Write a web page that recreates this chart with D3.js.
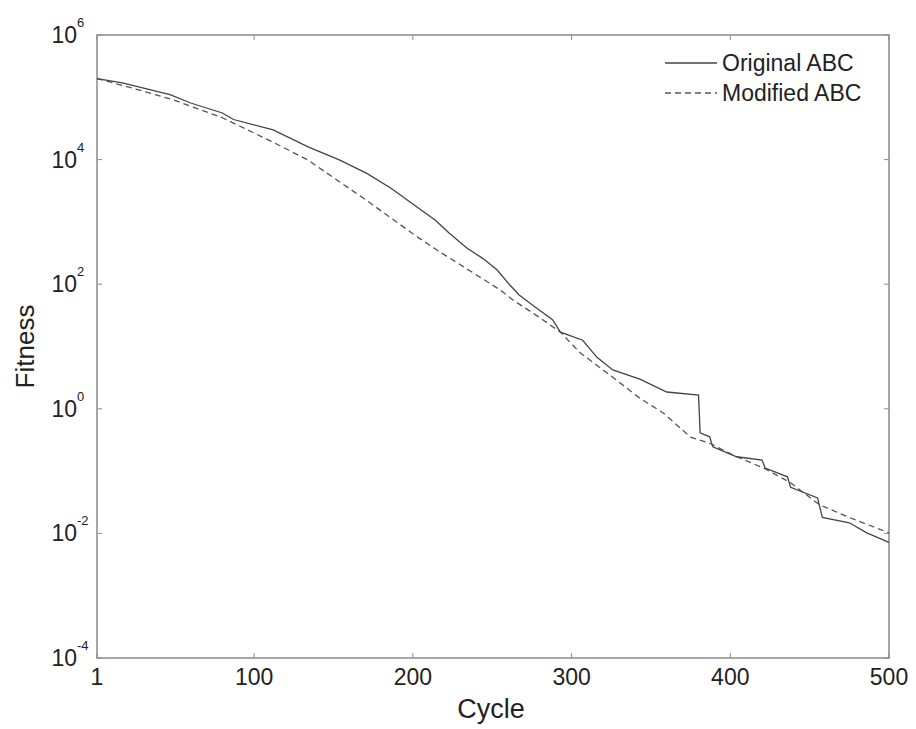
<!DOCTYPE html>
<html><head><meta charset="utf-8">
<script src="https://cdn.jsdelivr.net/npm/d3@7"></script>
<style>html,body{margin:0;padding:0;background:#fff;}svg{display:block;font-family:Arial,"Liberation Sans",Helvetica,sans-serif;}</style>
</head><body>
<svg id="chart" width="916" height="729"></svg>
<script>
const originalCycles = [1,17,47,60,80,87,112,134,154,171,186,203,214,223,234,244,253,261,267,277,288,293,307,316,326,343,360,380,381,387,389,404,420,422,436,438,455,458,475,486,500];
const originalFitness = [2.0e5,1.7e5,1.1e5,8.1e4,5.6e4,4.4e4,3.0e4,1.6e4,9.8e3,6.0e3,3.5e3,1.7e3,1.07e3,660,380,260,170,98,67,43,27,17,12.6,6.7,4.2,3.0,1.86,1.66,0.41,0.355,0.245,0.17,0.15,0.112,0.081,0.055,0.037,0.018,0.0148,0.0102,0.0072];
const modifiedCycles = [1,28,49,80,112,134,171,203,217,232,255,263,280,293,305,326,343,358,375,387,404,421,438,456,475,500];
const modifiedFitness = [2.0e5,1.3e5,9.1e4,4.7e4,1.9e4,9.8e3,2.2e3,570,330,190,81,56,29,17,8.1,3.2,1.48,0.85,0.35,0.28,0.17,0.112,0.065,0.029,0.018,0.0102];
const xTicks = [1,100,200,300,400,500];
const yTickExps = [-4,-2,0,2,4,6];
const seriesNames = ["Original ABC","Modified ABC"];

const svg = d3.select("#chart");
const L=97, R=889, T=35, B=658;
const x = d3.scaleLinear().domain([1,500]).range([L,R]);
const y = d3.scaleLog().domain([1e-4,1e6]).range([B,T]);
const frame="#8a8a8a", ink="#222";

svg.append("rect").attr("x",L).attr("y",T).attr("width",R-L).attr("height",B-T)
  .attr("fill","none").attr("stroke",frame).attr("stroke-width",1.5);

const tk=5;
xTicks.forEach(v=>{
  const px=x(v);
  svg.append("line").attr("x1",px).attr("x2",px).attr("y1",B).attr("y2",B-tk).attr("stroke",frame);
  svg.append("line").attr("x1",px).attr("x2",px).attr("y1",T).attr("y2",T+tk).attr("stroke",frame);
  svg.append("text").attr("x",px).attr("y",B+27).attr("text-anchor","middle")
    .attr("font-size",23).attr("fill",ink).text(v);
});
yTickExps.forEach(e=>{
  const py=y(Math.pow(10,e));
  svg.append("line").attr("x1",L).attr("x2",L+tk).attr("y1",py).attr("y2",py).attr("stroke",frame);
  svg.append("line").attr("x1",R).attr("x2",R-tk).attr("y1",py).attr("y2",py).attr("stroke",frame);
  svg.append("text").attr("x",L-20).attr("y",py+8).attr("text-anchor","end")
    .attr("font-size",23).attr("fill",ink).text("10");
  svg.append("text").attr("x",L-20).attr("y",py-8).attr("text-anchor","start")
    .attr("font-size",13).attr("fill",ink).text(String(e));
});

svg.append("text").attr("x",491).attr("y",718).attr("text-anchor","middle")
  .attr("font-size",27).attr("fill",ink).text("Cycle");
svg.append("text").attr("transform",`translate(34,${(T+B)/2}) rotate(-90)`).attr("text-anchor","middle")
  .attr("font-size",26).attr("fill",ink).text("Fitness");

const line = d3.line().x(d=>x(d[0])).y(d=>y(d[1]));
const orig = originalCycles.map((c,i)=>[c,originalFitness[i]]);
const mod = modifiedCycles.map((c,i)=>[c,modifiedFitness[i]]);
svg.append("path").datum(mod).attr("d",line).attr("fill","none")
  .attr("stroke","#555").attr("stroke-width",1.3).attr("stroke-dasharray","6,4");
svg.append("path").datum(orig).attr("d",line).attr("fill","none")
  .attr("stroke","#444").attr("stroke-width",1.3);

const lg = [{y:63,dash:null},{y:93,dash:"6,4"}];
seriesNames.forEach((n,i)=>{
  const ln=svg.append("line").attr("x1",665).attr("x2",717).attr("y1",lg[i].y).attr("y2",lg[i].y)
    .attr("stroke",i?"#555":"#444").attr("stroke-width",1.3);
  if(lg[i].dash) ln.attr("stroke-dasharray",lg[i].dash);
  svg.append("text").attr("x",722).attr("y",lg[i].y+8).attr("font-size",23).attr("fill",ink).text(n);
});
</script>
</body></html>
